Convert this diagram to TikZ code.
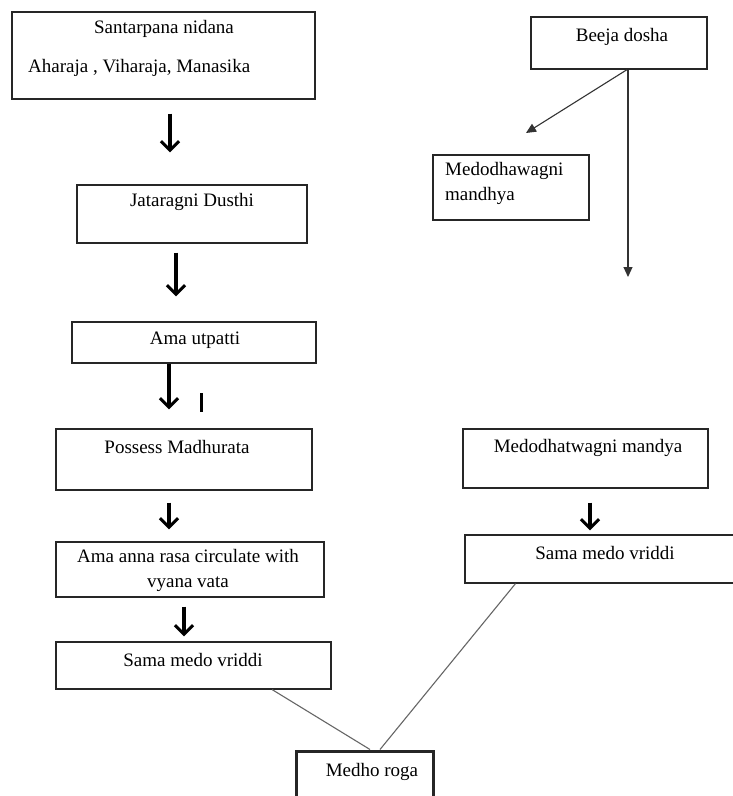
\documentclass[tikz,border=0pt]{standalone}
\usepackage{fontspec}
\setmainfont{Liberation Serif}
\usetikzlibrary{arrows.meta,calc}
\begin{document}
\begin{tikzpicture}[x=1pt,y=-1pt,
  box/.style={draw=black!85,line width=1.3pt,inner sep=0pt,rectangle},
  txt/.style={inner sep=0pt,font=\fontsize{19}{25}\selectfont,text=black},
  tarrow/.style={line width=3.2pt,-{Straight Barb[length=9pt,width=18pt,line width=3pt]}},
  farrow/.style={draw=black!80,line width=1.1pt,-{Triangle[length=10pt,width=9pt]}},
  link/.style={draw=black!60,line width=1.1pt}]
\clip (0,0) rectangle (733,796);
\fill[white] (0,0) rectangle (733,796);
% left column boxes
\node[box,minimum width=303pt,minimum height=87pt] (b1) at (163.5,55.5) {};
\node[txt] (t1a) at (164,29) {Santarpana nidana};
\node[txt,anchor=west] (t1b) at (28,68) {Aharaja , Viharaja, Manasika};
\node[box,minimum width=230pt,minimum height=58pt] (b2) at (192,214) {};
\node[txt] (t2) at (192,202) {Jataragni Dusthi};
\node[box,minimum width=244pt,minimum height=41pt] (b3) at (194,342.5) {};
\node[txt] (t3) at (195,340) {Ama utpatti};
\node[box,minimum width=256pt,minimum height=61pt] (b4) at (184,459.5) {};
\node[txt] (t4) at (177,447) {Possess Madhurata};
\node[box,minimum width=268pt,minimum height=55pt] (b5) at (190,569.5) {};
\node[txt,align=center] (t5) at (188,570) {Ama anna rasa circulate with\\vyana vata};
\node[box,minimum width=275pt,minimum height=47pt] (b6) at (193.5,665.5) {};
\node[txt] (t6) at (193,660) {Sama medo vriddi};
\node[box,line width=3pt,minimum width=137pt,minimum height=79pt] (b7) at (364.5,790.5) {};
\node[txt] (t7) at (372,772) {Medho roga};
% right column boxes
\node[box,minimum width=176pt,minimum height=52pt] (b8) at (619,43) {};
\node[txt] (t8) at (622,37) {Beeja dosha};
\node[box,minimum width=156pt,minimum height=65pt] (b9) at (511,187.5) {};
\node[txt,align=left,anchor=north west] (t9) at (445,162) {Medodhawagni\\mandhya};
\node[box,minimum width=245pt,minimum height=59pt] (b10) at (585.5,458.5) {};
\node[txt] (t10) at (588,448) {Medodhatwagni mandya};
\node[box,minimum width=275pt,minimum height=48pt] (b11) at (602.5,559) {};
\node[txt] (t11) at (605,553) {Sama medo vriddi};
% free ends
\coordinate (tipA) at (526,133);
\coordinate (tipB) at (628,277);
% thick arrows
\draw[tarrow,shorten <=14pt,shorten >=32pt] ([xshift=6.5pt]b1.south) -- ([xshift=-22pt]b2.north);
\draw[tarrow,shorten <=9pt,shorten >=25pt] ([xshift=-16pt]b2.south) -- ([xshift=-18pt]b3.north);
\draw[tarrow,shorten >=19pt] ([xshift=-25pt]b3.south) -- ([xshift=-15pt]b4.north);
\draw[tarrow,shorten <=12pt,shorten >=12pt] ([xshift=-15pt]b4.south) -- ([xshift=-21pt]b5.north);
\draw[tarrow,shorten <=9pt,shorten >=5pt] ([xshift=-6pt]b5.south) -- ([xshift=-9.5pt]b6.north);
\draw[tarrow,shorten <=14pt,shorten >=4pt] ([xshift=4.5pt]b10.south) -- ([xshift=-12.5pt]b11.north);
% stray bar
\draw[line width=3pt] (201,393) -- (201,412);
% thin arrows from Beeja dosha
\draw[farrow] ([xshift=9pt]b8.south) -- (tipB);
\draw[farrow] ([xshift=8pt]b8.south) -- (tipA);
% links to Medho roga
\draw[link] ($(b6.south west)!0.785!(b6.south east)$) -- ([xshift=5.5pt]b7.north);
\draw[link] ($(b11.south west)!0.185!(b11.south east)$) -- ([xshift=15.5pt]b7.north);
\end{tikzpicture}
\end{document}
